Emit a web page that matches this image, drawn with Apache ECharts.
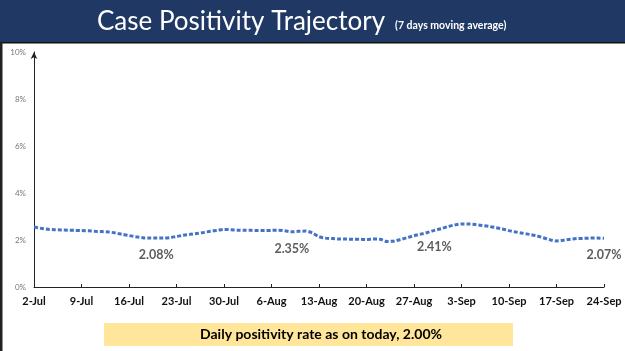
<!DOCTYPE html>
<html>
<head>
<meta charset="utf-8">
<script src="https://cdn.jsdelivr.net/npm/echarts@6/dist/echarts.min.js"></script>
<style>
  html, body { margin: 0; padding: 0; background: #fff; }
  #main { width: 625px; height: 351px; }
</style>
</head>
<body>
<div id="main"></div>
<script>
// 7 day moving average of positivity (%), one value per day 2-Jul .. 24-Sep
var positivity = [
  2.55, 2.50, 2.46, 2.44, 2.43, 2.42, 2.41, 2.40, 2.39, 2.37,
  2.36, 2.34, 2.30, 2.24, 2.19, 2.14, 2.10, 2.08, 2.08, 2.08,
  2.10, 2.15, 2.20, 2.24, 2.28, 2.32, 2.37, 2.41, 2.45, 2.44,
  2.42, 2.41, 2.41, 2.40, 2.40, 2.41, 2.42, 2.39, 2.35, 2.37,
  2.38, 2.30, 2.14, 2.08, 2.06, 2.04, 2.04, 2.03, 2.03, 2.02,
  2.04, 2.03, 1.94, 1.95, 2.02, 2.10, 2.18, 2.25, 2.32, 2.41,
  2.48, 2.57, 2.64, 2.68, 2.68, 2.66, 2.62, 2.58, 2.53, 2.47,
  2.40, 2.34, 2.29, 2.24, 2.18, 2.10, 2.01, 1.96, 1.99, 2.03,
  2.06, 2.07, 2.08, 2.08, 2.07
];
// days (index into positivity) that carry a value label
var labelledDays = [18, 38, 59, 84];
var months = ['Jan','Feb','Mar','Apr','May','Jun','Jul','Aug','Sep','Oct','Nov','Dec'];
var title = 'Case Positivity Trajectory';
var subtitle = '(7 days moving average)';
var footNote = 'Daily positivity rate as on today, 2.00%';

var days = [];
for (var i = 0; i < positivity.length; i++) {
  var d = new Date(2020, 6, 2 + i);
  days.push(d.getDate() + '-' + months[d.getMonth()]);
}

var labelPoints = labelledDays.map(function (i) {
  return [i, positivity[i]];
});

var myChart = echarts.init(document.getElementById('main'));
var option = {
  backgroundColor: '#fff',
  animation: false,
  title: {
    text: '{a|' + title + '}  {b|' + subtitle + '}',
    left: 92,
    top: 4,
    textStyle: {
      rich: {
        a: { color: '#fff', fontSize: 26, fontFamily: 'Lato', fontWeight: 'normal' },
        b: { color: '#fff', fontSize: 10.5, fontFamily: 'Lato', padding: [7, 0, 0, 0] }
      }
    }
  },
  graphic: [
    { type: 'rect', z: -1, shape: { x: 0, y: 0, width: 625, height: 42 }, style: { fill: '#203864' } },
    { type: 'rect', shape: { x: 0, y: 42, width: 625, height: 1.5 }, style: { fill: '#111' } },
    { type: 'rect', shape: { x: 0, y: 42, width: 2.5, height: 309 }, style: { fill: '#222' } },
    { type: 'rect', shape: { x: 104, y: 323, width: 409, height: 23 }, style: { fill: '#FFE69A' } },
    {
      type: 'text', x: 321, y: 334.5,
      style: {
        text: footNote, fill: '#000', font: 'bold 14px Lato',
        textAlign: 'center', textVerticalAlign: 'middle'
      }
    }
  ],
  grid: { left: 34, right: 21, top: 52, bottom: 64 },
  xAxis: {
    type: 'category',
    data: days,
    boundaryGap: false,
    axisLine: { lineStyle: { color: '#222', width: 1 } },
    axisTick: { show: true, inside: true, length: 3, interval: 6, lineStyle: { color: '#222' } },
    axisLabel: {
      interval: 6, color: '#111', fontSize: 11, fontWeight: 'bold',
      fontFamily: 'Lato', margin: 9
    }
  },
  yAxis: {
    type: 'value',
    min: 0, max: 10, interval: 2,
    axisLine: { show: true, symbol: ['none', 'arrow'], symbolSize: [5, 7], lineStyle: { color: '#222', width: 1 } },
    axisTick: { show: false },
    splitLine: { show: false },
    axisLabel: {
      formatter: '{value}%', color: '#777', fontSize: 8, fontFamily: 'Lato', margin: 8
    }
  },
  series: [{
    type: 'line',
    data: positivity,
    smooth: 0.3,
    symbol: 'none',
    lineStyle: { color: '#4472C4', width: 3, type: [4, 2] }
  }, {
    type: 'scatter',
    data: labelPoints,
    symbolSize: 1,
    itemStyle: { color: 'rgba(0,0,0,0)' },
    label: {
      show: true,
      position: 'bottom', distance: 10, color: '#333', fontSize: 12.5,
      fontFamily: 'Lato', fontWeight: 'bold',
      formatter: function (p) { return p.value[1].toFixed(2) + '%'; }
    }
  }]
};
myChart.setOption(option);
</script>
</body>
</html>
